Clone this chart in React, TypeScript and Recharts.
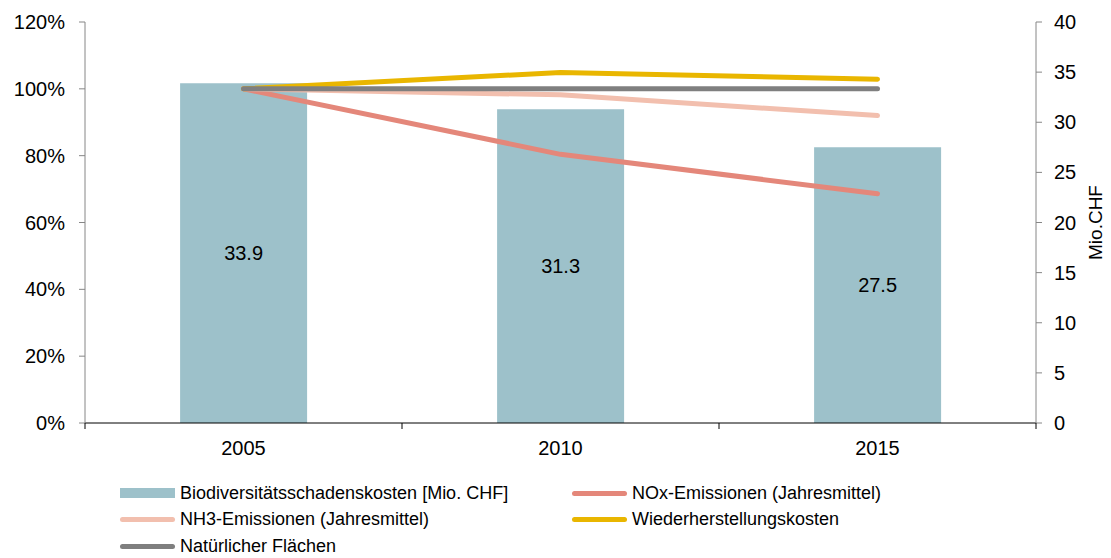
import { ComposedChart, Bar, Line, XAxis, YAxis, LabelList } from "recharts"

const years = ["2005", "2010", "2015"]
const schadenskosten = [33.9, 31.3, 27.5]
const noxEmissionen = [100, 80.4, 68.6]
const nh3Emissionen = [100, 98.2, 92.0]
const wiederherstellung = [100, 104.9, 102.9]
const natuerlich = [100, 100, 100]

const pctTicks = [0, 20, 40, 60, 80, 100, 120]
const chfTicks = [0, 5, 10, 15, 20, 25, 30, 35, 40]

const FONT = "'Liberation Sans', Arial, sans-serif"

const series = [
  { key: "nox", name: "NOx-Emissionen (Jahresmittel)", color: "#e4877a", values: noxEmissionen },
  { key: "nh3", name: "NH3-Emissionen (Jahresmittel)", color: "#f2bfae", values: nh3Emissionen },
  { key: "wied", name: "Wiederherstellungskosten", color: "#e9b600", values: wiederherstellung },
  { key: "nat", name: "Natürlicher Flächen", color: "#7f7f7f", values: natuerlich },
]
const barColor = "#9dc1ca"

const data = years.map((y, i) => {
  const row: any = { year: y, kosten: schadenskosten[i] }
  series.forEach((s) => (row[s.key] = s.values[i]))
  return row
})

const HALF_BAND = 158.5

const YearTick = ({ x, y, payload, index }: any) => (
  <g>
    <line x1={x - HALF_BAND} y1={y} x2={x - HALF_BAND} y2={y + 6} stroke="#000" />
    {index === years.length - 1 && (
      <line x1={x + HALF_BAND} y1={y} x2={x + HALF_BAND} y2={y + 6} stroke="#000" />
    )}
    <text x={x} y={y + 32} textAnchor="middle" fontSize={20} fill="#000" fontFamily={FONT}>
      {payload.value}
    </text>
  </g>
)

const legendItems = [
  { name: "Biodiversitätsschadenskosten [Mio. CHF]", color: barColor, bar: true },
  series[0],
  series[1],
  series[2],
  series[3],
]

export default function App() {
  return (
    <div style={{ position: "absolute", left: 0, top: 0, width: 1111, height: 558, background: "#fff", fontFamily: FONT }}>
      <ComposedChart width={1111} height={470} data={data} margin={{ top: 22, right: 0, left: 0, bottom: 0 }} barCategoryGap="30%">
        <XAxis
          dataKey="year"
          height={47}
          tickLine={false}
          tickSize={0}
          tickMargin={0}
          tick={<YearTick />}
          axisLine={{ stroke: "#000" }}
          interval={0}
        />
        <YAxis
          yAxisId="pct"
          width={85}
          domain={[0, 120]}
          ticks={pctTicks}
          tickFormatter={(v: number) => `${v}%`}
          tickSize={6}
          tickMargin={14}
          tick={{ fontSize: 20, fill: "#000", fontFamily: FONT }}
          axisLine={{ stroke: "#868686" }}
          tickLine={{ stroke: "#868686" }}
          interval={0}
        />
        <YAxis
          yAxisId="chf"
          orientation="right"
          width={75}
          domain={[0, 40]}
          ticks={chfTicks}
          tickSize={6}
          tickMargin={12}
          tick={{ fontSize: 20, fill: "#000", fontFamily: FONT }}
          axisLine={{ stroke: "#868686" }}
          tickLine={{ stroke: "#868686" }}
          interval={0}
          label={{ value: "Mio.CHF", angle: -90, position: "center", dx: 22, fontSize: 19, fill: "#000", fontFamily: FONT }}
        />
        <Bar yAxisId="chf" dataKey="kosten" fill={barColor} isAnimationActive={false}>
          <LabelList dataKey="kosten" position="center" fontSize={20} fill="#000" fontFamily={FONT} />
        </Bar>
        {series.map((s) => (
          <Line
            key={s.key}
            yAxisId="pct"
            dataKey={s.key}
            stroke={s.color}
            strokeWidth={5}
            strokeLinecap="round"
            strokeLinejoin="round"
            dot={false}
            activeDot={false}
            isAnimationActive={false}
          />
        ))}
      </ComposedChart>
      <div style={{ position: "absolute", top: 480, left: 0, width: 1111 }}>
        {legendItems.map((it: any, i) => {
          const col = i % 2
          const row = Math.floor(i / 2)
          return (
            <div
              key={it.name}
              style={{
                position: "absolute",
                left: col === 0 ? 120 : 572,
                top: row * 26.5,
                display: "flex",
                alignItems: "center",
                height: 26,
                whiteSpace: "nowrap",
              }}
            >
              {it.bar ? (
                <div style={{ width: 55, height: 10, background: it.color }} />
              ) : (
                <div style={{ width: 55, height: 5, background: it.color, borderRadius: 3 }} />
              )}
              <span style={{ marginLeft: 5, fontSize: 18, color: "#000" }}>{it.name}</span>
            </div>
          )
        })}
      </div>
    </div>
  )
}
